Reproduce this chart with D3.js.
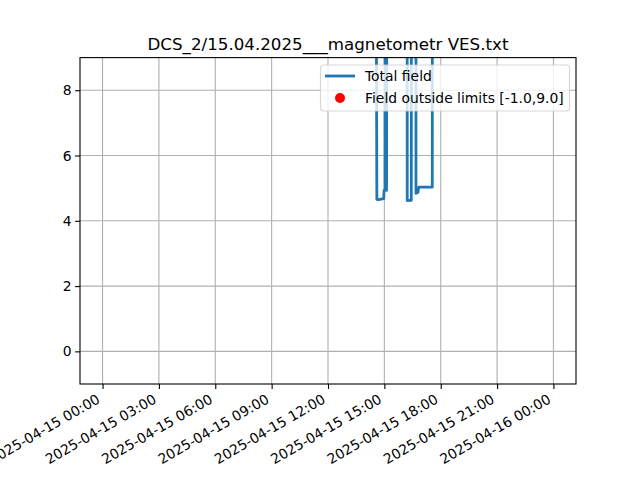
<!DOCTYPE html>
<html><head><meta charset="utf-8">
<script src="https://cdn.jsdelivr.net/npm/d3@7/dist/d3.min.js"></script>
<style>body{margin:0;background:#fff}svg{display:block;font-family:"DejaVu Sans",sans-serif}</style>
</head><body><svg id="c" width="640" height="480"></svg>
<script>
const title = "DCS_2/15.04.2025___magnetometr VES.txt";
const times = ["2025-04-15 00:00","2025-04-15 14:24","2025-04-15 14:36","2025-04-15 14:41","2025-04-15 14:58","2025-04-15 14:59","2025-04-15 15:02","2025-04-15 15:04","2025-04-15 15:07","2025-04-15 15:12","2025-04-15 16:12","2025-04-15 16:13","2025-04-15 16:26","2025-04-15 16:28","2025-04-15 16:40","2025-04-15 16:41","2025-04-15 16:47","2025-04-15 16:50","2025-04-15 17:33","2025-04-15 17:35","2025-04-16 00:00"];
const values = [48.5,48.5,4.66,4.65,4.68,4.93,4.95,48.5,4.93,48.5,48.5,4.62,4.63,48.5,48.5,4.84,4.87,5.03,5.03,48.5,48.5];
const yLimits = [-1.0, 9.0];
const yTicks = [0,2,4,6,8];
const xTickLabels = ["2025-04-15 00:00","2025-04-15 03:00","2025-04-15 06:00","2025-04-15 09:00","2025-04-15 12:00","2025-04-15 15:00","2025-04-15 18:00","2025-04-15 21:00","2025-04-16 00:00"];
const legendLabels = ["Total field","Field outside limits [-1.0,9.0]"];

const parse = d3.utcParse("%Y-%m-%d %H:%M");
const data = times.map((t,i)=>({t:parse(t), v:values[i]}));
const outside = data.filter(d=>d.v<yLimits[0]||d.v>yLimits[1]);

const svg = d3.select("#c");
const L=80,R=576,T=57.6,B=384;
const t0 = parse(xTickLabels[0]), t1 = parse(xTickLabels[xTickLabels.length-1]);
const span = t1 - t0, pad = span*0.05;
const x = d3.scaleUtc().domain([new Date(+t0-pad), new Date(+t1+pad)]).range([L,R]);
const y = d3.scaleLinear().domain(yLimits).range([B,T]);
const xt = xTickLabels.map(parse);

svg.append("defs").append("clipPath").attr("id","clip").append("rect").attr("x",L).attr("y",T).attr("width",R-L).attr("height",B-T);

// grid
const g = svg.append("g");
g.selectAll(".gx").data(xt).join("line").attr("x1",d=>x(d)).attr("x2",d=>x(d)).attr("y1",T).attr("y2",B).attr("stroke","#b0b0b0").attr("stroke-width",1.1);
g.selectAll(".gy").data(yTicks).join("line").attr("y1",d=>y(d)).attr("y2",d=>y(d)).attr("x1",L).attr("x2",R).attr("stroke","#b0b0b0").attr("stroke-width",1.1);

// line
const line = d3.line().x(d=>x(d.t)).y(d=>y(d.v));
svg.append("path").datum(data).attr("clip-path","url(#clip)").attr("d",line).attr("fill","none").attr("stroke","#1f77b4").attr("stroke-width",2.8).attr("stroke-linejoin","round");
svg.append("g").attr("clip-path","url(#clip)").selectAll("circle").data(outside).join("circle").attr("cx",d=>x(d.t)).attr("cy",d=>y(d.v)).attr("r",5).attr("fill","red");

// axes
const xa = svg.append("g").attr("transform",`translate(0,${B})`).call(d3.axisBottom(x).tickValues(xt).tickSize(4.9).tickFormat(""));
const ya = svg.append("g").attr("transform",`translate(${L},0)`).call(d3.axisLeft(y).tickValues(yTicks).tickSize(4.9).tickFormat(""));
[xa,ya].forEach(a=>{a.select(".domain").remove();a.selectAll(".tick line").attr("stroke","#000").attr("stroke-width",1.1);});
svg.append("rect").attr("x",L).attr("y",T).attr("width",R-L).attr("height",B-T).attr("fill","none").attr("stroke","#000").attr("stroke-width",1.1);

svg.append("g").selectAll("text").data(xt).join("text")
  .attr("transform",(d)=>`translate(${x(d)-1.6},402) rotate(-30)`)
  .attr("text-anchor","end").attr("font-size",13.9).attr("fill","#000")
  .text((d,i)=>xTickLabels[i]);
svg.append("g").selectAll("text").data(yTicks).join("text")
  .attr("x",L-8.4).attr("y",d=>y(d)).attr("dy","0.36em").attr("text-anchor","end").attr("font-size",13.9).text(d=>d);

svg.append("text").attr("x",(L+R)/2).attr("y",49.5).attr("text-anchor","middle").attr("font-size",16.7).text(title);

// legend
const lg = svg.append("g");
lg.append("rect").attr("x",320.5).attr("y",65).attr("width",249).attr("height",46).attr("rx",3)
  .attr("fill","#fff").attr("fill-opacity",0.8).attr("stroke","#cccccc").attr("stroke-opacity",0.8).attr("stroke-width",1.1);
lg.append("line").attr("x1",325).attr("x2",355).attr("y1",76).attr("y2",76).attr("stroke","#1f77b4").attr("stroke-width",2.8);
lg.append("circle").attr("cx",340).attr("cy",98).attr("r",5).attr("fill","red");
lg.selectAll("text").data(legendLabels).join("text").attr("x",365).attr("y",(d,i)=>76+i*22).attr("dy","0.36em").attr("font-size",13.9).text(d=>d);
</script></body></html>
